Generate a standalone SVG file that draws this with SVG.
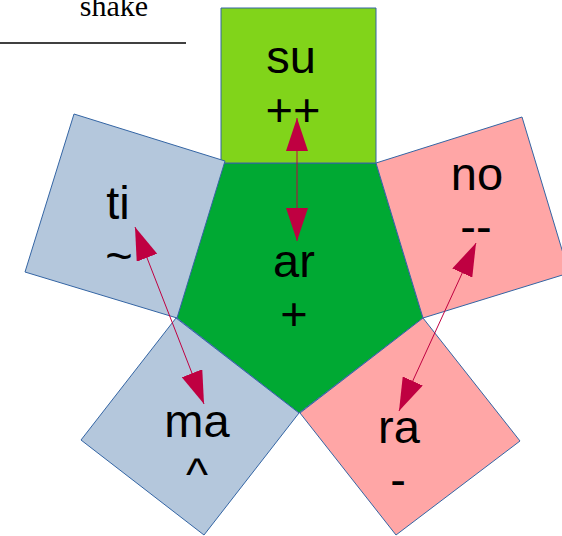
<svg xmlns="http://www.w3.org/2000/svg" width="562" height="536" viewBox="0 0 562 536">
<style>
.s{stroke:#3465a4;stroke-width:1;stroke-linejoin:miter}
.blue{fill:#b4c7dc}.pink{fill:#ffa6a6}.lg{fill:#81d41a}.g{fill:#00a933}
.t{font-family:"Liberation Sans",Arial,sans-serif;font-size:47px;fill:#000;text-anchor:middle}
.c{stroke:#bf0041;stroke-width:1;fill:none;marker-start:url(#ah);marker-end:url(#ah)}
</style>
<defs>
<marker id="ah" markerUnits="userSpaceOnUse" markerWidth="34" markerHeight="22" refX="33" refY="11" orient="auto-start-reverse" viewBox="0 0 34 22">
<path d="M0,0 L33,11 L0,22 z" fill="#bf0041"/>
</marker>
</defs>
<g id="title">
<text x="114" y="16" style="font-family:'Liberation Serif','Times New Roman',serif;font-size:30px;fill:#000;text-anchor:middle">shake</text>
<line x1="0" y1="43" x2="186" y2="43" stroke="#000" stroke-width="1.5"/>
</g>
<g id="ar">
<polygon class="s g" points="221,163 376,163 423,318 299,413 177,318"/>
<text class="t" x="294" y="277">ar</text>
<text class="t" x="294" y="330">+</text>
</g>
<g id="su">
<polygon class="s lg" points="221,8 376,8 376,163 221,163"/>
<text class="t" x="291" y="73">su</text>
<text class="t" x="293" y="126">++</text>
</g>
<g id="ti">
<polygon class="s blue" points="74,114 225,161 177,318 25,272"/>
<text class="t" x="118" y="219">ti</text>
<text class="t" x="119" y="272">~</text>
</g>
<g id="no">
<polygon class="s pink" points="376,163 522,117 569,273 423,318"/>
<text class="t" x="477" y="190">no</text>
<text class="t" x="476" y="243">--</text>
</g>
<g id="ma">
<polygon class="s blue" points="176,318 299,413 204,535 81,440"/>
<text class="t" x="197" y="437">ma</text>
<text class="t" x="197" y="490">^</text>
</g>
<g id="ra">
<polygon class="s pink" points="300,413 423,318 520,441 396,535"/>
<text class="t" x="399" y="443">ra</text>
<text class="t" x="398" y="496">-</text>
</g>
<g id="connectors">
<line class="c" x1="297" y1="118" x2="297" y2="241"/>
<line class="c" x1="135" y1="227" x2="204" y2="404"/>
<line class="c" x1="476" y1="243" x2="399" y2="411"/>
</g>
</svg>
